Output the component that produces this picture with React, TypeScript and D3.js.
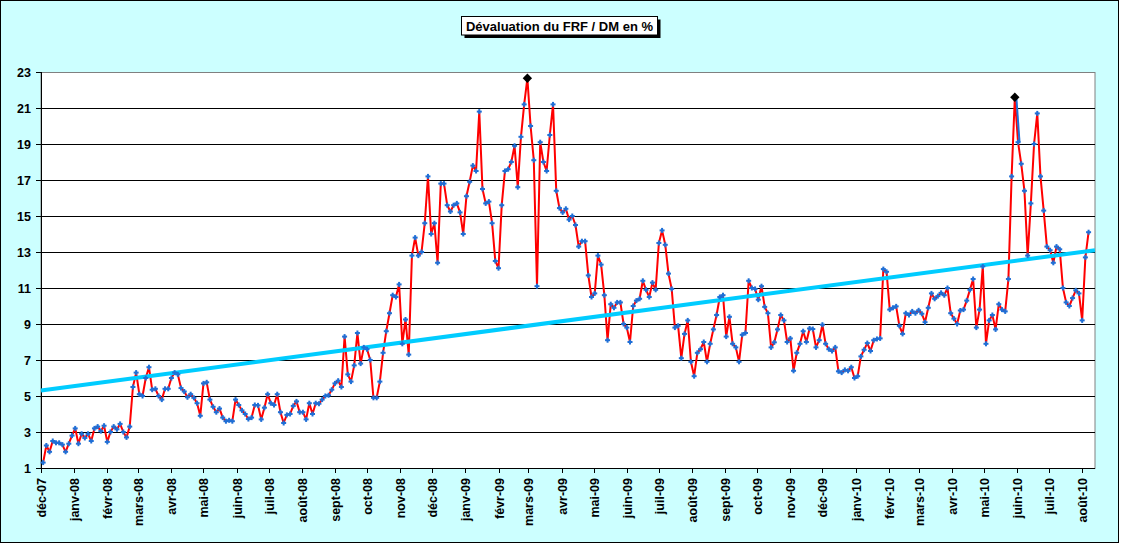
import React from "react";
import * as d3 from "d3";

const WIDTH = 1121;
const HEIGHT = 545;
const MARGIN = { top: 72, right: 26, bottom: 77, left: 41 };

// readings every 3 days, first one on 3 Dec 2007
const START_DATE = "2007-12-03";
const STEP_DAYS = 3;

const dec07ToFeb08 = [
  1.3, 2.25, 1.9, 2.5, 2.4, 2.4, 2.3, 1.9, 2.35, 2.8,
  3.2, 2.35, 2.9, 2.67, 2.9, 2.5, 3.2, 3.3, 3.05, 3.35,
  2.45, 3.0, 3.3, 3.15, 3.45, 3.0, 2.7, 3.3, 5.5, 6.3,
  5.1, 5.0, 6.0, 6.6, 5.35, 5.4, 5.0, 4.8, 5.4, 5.4,
];
const apr08ToJul08 = [
  6.0, 6.3, 6.2, 5.44, 5.25, 4.93, 5.1, 4.9, 4.6, 3.9,
  5.7, 5.76, 4.8, 4.4, 4.1, 4.3, 3.8, 3.6, 3.65, 3.6,
  4.8, 4.5, 4.2, 4.0, 3.72, 3.8, 4.5, 4.48, 3.7, 4.35,
  5.1, 4.6, 4.5, 5.1, 4.1, 3.5, 3.95, 4.0, 4.45, 4.7,
];
const aug08ToNov08 = [
  4.1, 4.1, 3.7, 4.6, 4.0, 4.6, 4.57, 4.8, 5.0, 5.04,
  5.35, 5.7, 5.85, 5.5, 8.3, 6.2, 5.8, 6.7, 8.5, 6.8,
  7.7, 7.6, 7.0, 4.9, 4.9, 5.8, 7.4, 8.6, 9.6, 10.6,
  10.5, 11.2, 7.9, 9.25, 7.3, 12.8, 13.8, 12.8, 13.0, 14.6,
];
const dec08ToApr09 = [
  17.2, 14.0, 14.6, 12.4, 16.8, 16.8, 15.6, 15.25, 15.6, 15.7,
  15.2, 14.0, 16.1, 16.9, 17.8, 17.5, 20.8, 16.5, 15.7, 15.8,
  14.6, 12.5, 12.1, 15.6, 17.5, 17.6, 18.0, 18.9, 16.6, 19.4,
  21.2, 22.65, 20.0, 18.1, 11.1, 19.1, 18.0, 17.5, 19.5, 21.2,
];
const apr09ToAug09 = [
  16.4, 15.44, 15.2, 15.4, 14.8, 15.0, 14.5, 13.3, 13.6, 13.6,
  11.7, 10.5, 10.7, 12.8, 12.3, 10.6, 8.1, 10.1, 9.9, 10.2,
  10.2, 9.0, 8.8, 8.0, 10.0, 10.3, 10.4, 11.4, 10.9, 10.5,
  11.3, 10.9, 13.5, 14.2, 13.4, 11.8, 10.95, 8.8, 8.9, 7.1,
];
const aug09ToDec09 = [
  8.45, 9.2, 6.9, 6.1, 7.4, 7.6, 8.0, 6.9, 7.9, 8.7,
  9.5, 10.5, 10.6, 8.3, 9.4, 7.9, 7.7, 6.9, 8.4, 8.5,
  11.4, 11.0, 10.95, 10.35, 11.1, 9.95, 9.6, 7.7, 7.98, 8.7,
  9.5, 9.2, 8.0, 8.2, 6.4, 7.4, 7.9, 8.6, 8.0, 8.75,
];
const dec09ToMar10 = [
  8.72, 7.7, 8.1, 8.96, 7.9, 7.6, 7.5, 7.7, 6.37, 6.3,
  6.45, 6.4, 6.6, 6.0, 6.1, 7.2, 7.57, 7.94, 7.5, 8.1,
  8.17, 8.2, 12.05, 11.9, 9.8, 9.9, 9.98, 8.9, 8.45, 9.6,
  9.5, 9.7, 9.6, 9.76, 9.57, 9.1, 9.9, 10.7, 10.4, 10.55,
];
const apr10ToAug10 = [
  10.73, 10.6, 11.0, 9.6, 9.3, 9.0, 9.75, 9.8, 10.3, 10.9,
  11.5, 8.8, 9.8, 12.2, 7.9, 9.2, 9.5, 8.7, 10.1, 9.8,
  9.7, 11.5, 17.2, 21.6, 19.1, 17.9, 16.4, 12.8, 15.7, 19.0,
  20.7, 17.2, 15.3, 13.3, 13.1, 12.4, 13.3, 13.15, 11.0, 10.2,
  10.0, 10.44, 10.87, 10.7, 9.2, 12.7, 14.1,
];

const peakDates = ["2009-02-28", "2010-05-30"];
const trendDates = ["2007-12-01", "2010-08-13"];
const trendValues = [5.3, 13.1];

const xDomain = ["2007-12-01", "2010-08-13"];
const yTicks = [1, 3, 5, 7, 9, 11, 13, 15, 17, 19, 21, 23];
const monthNames = ["janv", "févr", "mars", "avr", "mai", "juin", "juil", "août", "sept", "oct", "nov", "déc"];
const firstMonth = "2007-12-01";
const lastMonth = "2010-08-01";

const TITLE = "Dévaluation du FRF / DM en %";
const FONT = "Arial, 'Liberation Sans', sans-serif";

type Point = { date: Date; value: number };

const parse = d3.utcParse("%Y-%m-%d");

const App = () => {
  const values = [
    ...dec07ToFeb08, ...apr08ToJul08, ...aug08ToNov08, ...dec08ToApr09,
    ...apr09ToAug09, ...aug09ToDec09, ...dec09ToMar10, ...apr10ToAug10,
  ];
  const start = parse(START_DATE)!;
  const data: Point[] = values.map((v, i) => ({
    date: d3.utcDay.offset(start, i * STEP_DAYS),
    value: v,
  }));

  const x = d3
    .scaleUtc()
    .domain([parse(xDomain[0])!, parse(xDomain[1])!])
    .range([MARGIN.left, WIDTH - MARGIN.right]);
  const y = d3
    .scaleLinear()
    .domain([1, 23])
    .range([HEIGHT - MARGIN.bottom, MARGIN.top]);

  const line = d3
    .line<Point>()
    .x((d) => x(d.date))
    .y((d) => y(d.value));

  const trend: Point[] = trendDates.map((d, i) => ({ date: parse(d)!, value: trendValues[i] }));

  const peaks = peakDates
    .map((s) => data.findIndex((d) => +d.date === +parse(s)!))
    .filter((i) => i >= 0);

  const months = d3.utcMonth.range(parse(firstMonth)!, d3.utcDay.offset(parse(lastMonth)!, 1));
  const x0 = MARGIN.left;
  const x1 = WIDTH - MARGIN.right;
  const y0 = HEIGHT - MARGIN.bottom;
  const y1 = MARGIN.top;

  const diamond = d3.symbol(d3.symbolSquare, 44)() || "";
  const lastPeak = peaks[peaks.length - 1];

  return (
    <svg
      width={WIDTH}
      height={HEIGHT}
      style={{ position: "absolute", left: 0, top: 0 }}
      fontFamily={FONT}
    >
      <rect x={0.5} y={0.5} width={1118} height={542} fill="#CCFFFF" stroke="#000" />
      <line x1={1118.5} x2={1118.5} y1={0} y2={543} stroke="#000" />
      <line x1={0} x2={1119} y1={542.5} y2={542.5} stroke="#000" />

      {/* title */}
      <rect x={464.5} y={19.5} width={196} height={18.5} fill="#000" />
      <rect x={461.5} y={16.5} width={196} height={18.5} fill="#fff" stroke="#000" />
      <text x={559.5} y={30.5} textAnchor="middle" fontSize={13} fontWeight="bold">
        {TITLE}
      </text>

      {/* plot area */}
      <rect x={x0} y={y1 + 0.5} width={x1 - x0} height={y0 - y1} fill="#fff" stroke="#808080" />
      {yTicks
        .filter((t) => t > 1 && t < 23)
        .map((t) => (
          <line key={t} x1={x0} x2={x1} y1={Math.round(y(t)) + 0.5} y2={Math.round(y(t)) + 0.5} stroke="#000" />
        ))}

      {/* y axis */}
      <line x1={x0 + 0.5} x2={x0 + 0.5} y1={y1} y2={y0} stroke="#000" />
      {yTicks.map((t) => (
        <g key={t} transform={`translate(0,${Math.round(y(t)) + 0.5})`}>
          <line x1={x0 - 5} x2={x0} stroke="#000" />
          <text x={x0 - 10} dy="0.35em" textAnchor="end" fontSize={12.5} fontWeight="bold">
            {t}
          </text>
        </g>
      ))}

      {/* x axis */}
      <line x1={x0} x2={x1} y1={y0 + 0.5} y2={y0 + 0.5} stroke="#000" />
      {months.map((m) => {
        const px = Math.round(x(m)) + 0.5;
        const label = `${monthNames[m.getUTCMonth()]}-${d3.utcFormat("%y")(m)}`;
        return (
          <g key={+m}>
            <line x1={px} x2={px} y1={y0} y2={y0 + 5} stroke="#000" />
            <text
              transform={`translate(${px},${y0 + 10}) rotate(-90)`}
              textAnchor="end"
              dy="0.35em"
              fontSize={12.5}
              fontWeight="bold"
            >
              {label}
            </text>
          </g>
        );
      })}

      {/* series */}
      <path d={line(data) || ""} fill="none" stroke="#FF0000" strokeWidth={2} strokeLinejoin="round" />
      <path d={line(trend) || ""} fill="none" stroke="#00CCFF" strokeWidth={4} />
      {lastPeak !== undefined && lastPeak + 1 < data.length && (
        <path
          d={line([data[lastPeak], data[lastPeak + 1]]) || ""}
          transform="translate(1.5,0)"
          fill="none"
          stroke="#1F6FD6"
          strokeWidth={2}
        />
      )}
      {data.map((d, i) => (
        <g key={i} transform={`translate(${x(d.date)},${y(d.value)})`} fill="#1F6FD6">
          <rect x={-2.5} y={-1} width={5} height={2} />
          <rect x={-1} y={-2.5} width={2} height={5} />
        </g>
      ))}
      {peaks.map((i) => (
        <path
          key={i}
          d={diamond}
          transform={`translate(${x(data[i].date)},${y(data[i].value)}) rotate(45)`}
          fill="#000"
        />
      ))}
    </svg>
  );
};

export default App;
